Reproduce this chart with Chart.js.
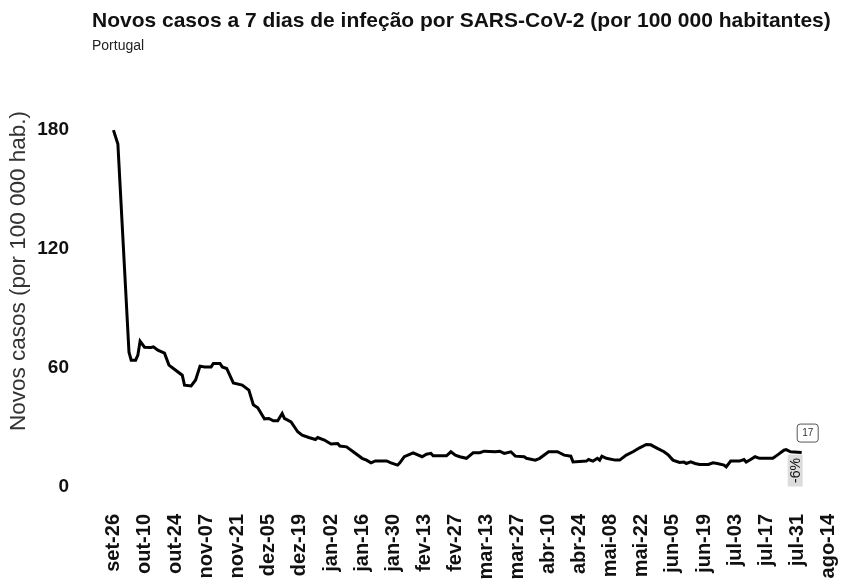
<!DOCTYPE html>
<html>
<head>
<meta charset="utf-8">
<script src="https://cdn.jsdelivr.net/npm/chart.js@4"></script>
<style>
  body { margin: 0; background: #fff; font-family: "Liberation Sans", Arial, sans-serif; }
  #wrap { position: relative; width: 841px; height: 582px; }
  #title { position: absolute; left: 92px; top: 8px; font-size: 21px; font-weight: bold; color: #111; white-space: nowrap; }
  #subtitle { position: absolute; left: 92px; top: 37px; font-size: 14px; color: #222; }
  canvas { position: absolute; left: 0; top: 0; }
</style>
</head>
<body>
<div id="wrap">
  <canvas id="chart" width="841" height="582"></canvas>
  <div id="title">Novos casos a 7 dias de infeção por SARS-CoV-2 (por 100 000 habitantes)</div>
  <div id="subtitle">Portugal</div>
</div>
<script>
// days since set-26, 7-day cases per 100k
const days = [0, 2, 7, 8, 10, 11, 12, 14, 17, 18, 20, 23, 25, 27, 31, 32, 35, 37, 39, 41, 44, 45, 48, 49, 51, 54, 58, 61, 63, 65, 68, 70, 72, 74, 76, 77, 80, 83, 85, 88, 91, 92, 95, 98, 101, 102, 105, 108, 112, 114, 116, 118, 123, 125, 128, 129, 131, 135, 139, 141, 143, 144, 150, 152, 154, 156, 159, 162, 165, 167, 172, 174, 176, 179, 181, 185, 186, 190, 192, 196, 200, 203, 206, 207, 213, 214, 216, 218, 219, 220, 222, 226, 228, 231, 234, 237, 240, 242, 245, 248, 250, 252, 255, 257, 258, 260, 262, 264, 268, 270, 272, 275, 276, 278, 282, 284, 285, 287, 289, 291, 297, 299, 302, 303, 305, 310]
const cases = [180, 173, 68, 64, 64, 66.5, 73.5, 70.5, 70.4, 70.7, 69, 67.5, 61.5, 59.8, 56.4, 51.4, 51, 54, 61, 60.6, 60.6, 62.3, 62.3, 60.6, 59.8, 52.5, 51.4, 48.9, 41.5, 40, 34.4, 34.6, 33.4, 33.4, 37.1, 34.6, 32.9, 27.9, 26.2, 25, 24, 25, 23.7, 21.7, 22, 20.7, 20.3, 17.8, 14.5, 13.6, 12.2, 13.2, 13.2, 12.2, 11.1, 12.2, 15.3, 17.3, 15.3, 16.6, 17, 15.8, 15.8, 17.8, 16.1, 15.3, 14.5, 17.3, 17.3, 18.1, 17.8, 18.1, 17, 17.8, 15.6, 15.3, 14.5, 13.6, 14.5, 17.8, 17.8, 16.1, 15.6, 12.7, 13.1, 13.9, 13.1, 14.5, 13.6, 15.6, 14.5, 13.6, 13.6, 16.1, 17.8, 19.8, 21.5, 21.3, 19.5, 17.8, 16.1, 13.6, 12.4, 12.6, 11.9, 12.7, 11.9, 11.4, 11.4, 12.2, 11.9, 11.1, 10.2, 13.1, 13.1, 13.9, 12.6, 13.9, 15.3, 14.5, 14.5, 16.1, 18.6, 18.9, 17.8, 17.4]

const xTickLabels = ['set-26', 'out-10', 'out-24', 'nov-07', 'nov-21', 'dez-05', 'dez-19', 'jan-02', 'jan-16', 'jan-30', 'fev-13', 'fev-27', 'mar-13', 'mar-27', 'abr-10', 'abr-24', 'mai-08', 'mai-22', 'jun-05', 'jun-19', 'jul-03', 'jul-17', 'jul-31', 'ago-14']
const yTicks = [0, 60, 120, 180]
const weekChange = -6

const points = days.map((d, i) => ({x: d, y: cases[i]}))
const font = '"Liberation Sans", Arial, sans-serif'

// last value box and weekly change label at the end of the line
const endLabels = {
  id: 'endLabels',
  afterDatasetsDraw(chart) {
    let ctx = chart.ctx
    let last = points[points.length - 1]
    let px = chart.scales.x.getPixelForValue(last.x)
    let py = chart.scales.y.getPixelForValue(last.y)
    ctx.save()
    // value box
    ctx.beginPath()
    ctx.roundRect(px - 4.5, py - 28.5, 21, 18, 3)
    ctx.fillStyle = '#fff'
    ctx.fill()
    ctx.strokeStyle = '#555'
    ctx.lineWidth = 1
    ctx.stroke()
    ctx.fillStyle = '#333'
    ctx.font = '10px ' + font
    ctx.textAlign = 'center'
    ctx.textBaseline = 'middle'
    ctx.fillText(Math.round(last.y), px + 6, py - 19)
    // change label
    ctx.fillStyle = '#dcdcdc'
    ctx.fillRect(px - 14, py + 2, 15, 32)
    ctx.translate(px - 6.5, py + 18)
    ctx.rotate(-Math.PI / 2)
    ctx.fillStyle = '#111'
    ctx.font = '14px ' + font
    ctx.fillText(weekChange + '%', 0, 1)
    ctx.restore()
  }
}

let ctx = document.getElementById('chart').getContext('2d')
let casesChart = new Chart(ctx, {
  type: 'line',
  data: {
    datasets: [{
      label: 'Novos casos',
      data: points,
      borderColor: '#000',
      borderWidth: 3,
      fill: false,
      tension: 0,
      pointRadius: 0
    }]
  },
  options: {
    responsive: false,
    animation: false,
    layout: { padding: { top: 45, right: 6, left: 0, bottom: 0 } },
    plugins: {
      legend: { display: false },
      tooltip: { enabled: false }
    },
    scales: {
      x: {
        type: 'linear',
        min: -2,
        max: 325,
        grid: { display: false, drawTicks: false },
        border: { display: false },
        afterBuildTicks: s => { s.ticks = xTickLabels.map((l, i) => ({value: i * 14})) },
        afterFit: s => { s.height = 85; s.paddingLeft = 0; s.paddingRight = 0 },
        ticks: {
          autoSkip: false,
          minRotation: 90,
          maxRotation: 90,
          padding: 17,
          color: '#111',
          font: { family: font, size: 20, weight: 'bold' },
          callback: v => xTickLabels[Math.round(v / 14)]
        }
      },
      y: {
        min: -5,
        max: 222.9,
        grid: { display: false, drawTicks: false },
        border: { display: false },
        afterBuildTicks: s => { s.ticks = yTicks.map(v => ({value: v})) },
        afterFit: s => { s.width = 109; s.paddingTop = 0; s.paddingBottom = 0 },
        ticks: {
          padding: 40,
          color: '#111',
          font: { family: font, size: 19, weight: 'bold' }
        },
        title: {
          display: true,
          text: 'Novos casos (por 100 000 hab.)',
          color: '#333',
          padding: { top: 5, bottom: 0 },
          font: { family: font, size: 22.5 }
        }
      }
    }
  },
  plugins: [endLabels]
})
</script>
</body>
</html>
